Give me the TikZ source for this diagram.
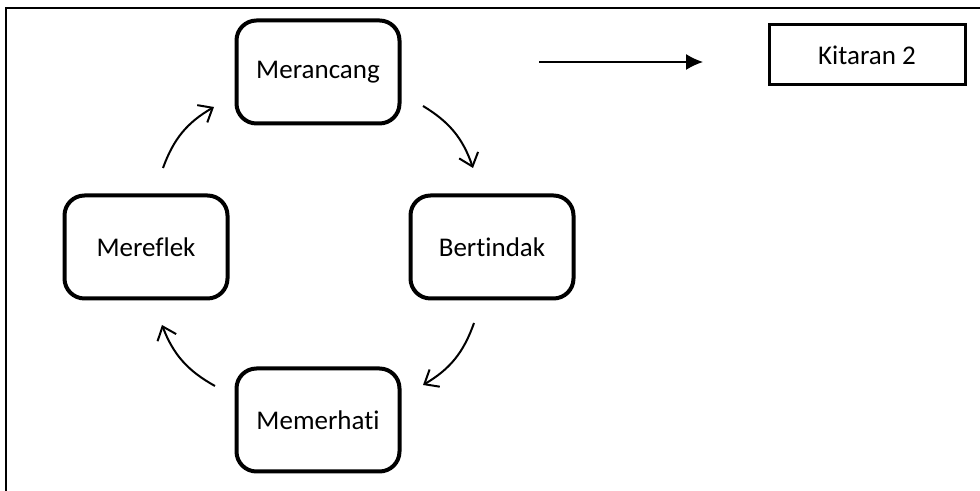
\documentclass[tikz,border=0pt]{standalone}
\usepackage{fontspec}
\setmainfont{Carlito}[Ligatures={NoCommon}]
\usetikzlibrary{arrows.meta}

\tikzset{
    stage/.style={draw, line width=2pt, rounded corners=10pt, minimum width=81.5pt, minimum height=51.5pt, font=\fontsize{13.5}{16}\selectfont},
    cyc/.style={line width=1pt, -{Straight Barb[length=6pt,width=10pt]}, bend left=20}
}

\begin{document}
\begin{tikzpicture}[x=0.5pt, y=0.5pt]
        \useasboundingbox (0,0) rectangle (980,491);
        \draw[line width=1pt] (6,0) -- (6,483) -- (980,483);
        % the four stages
        \node[stage] (rancang) at (318,419) {Merancang};
        \node[stage] (tindak) at (492,244) {Bertindak};
        \node[stage] (hati) at (318,71) {Memerhati};
        \node[stage] (reflek) at (146,244) {Mereflek};
        \node[draw, line width=1.5pt, minimum width=98pt, minimum height=30pt, font=\fontsize{13.5}{16}\selectfont] (kitaran) at (867,436) {Kitaran 2};
        % arrow ends
        \coordinate (a1) at (423,385);
        \coordinate (b1) at (473,323);
        \coordinate (a2) at (474,168);
        \coordinate (b2) at (423,106);
        \coordinate (a3) at (215,105);
        \coordinate (b3) at (162,166);
        \coordinate (a4) at (163,323);
        \coordinate (b4) at (214,384);
        \coordinate (go) at (539,429);
        \coordinate (stop) at (703,429);
        \draw[cyc] (a1) to (b1);
        \draw[cyc] (a2) to (b2);
        \draw[cyc] (a3) to (b3);
        \draw[cyc] (a4) to (b4);
        \draw[line width=0.7pt, -{Latex[length=8.5pt,width=8pt]}] (go) -- (stop);
    \end{tikzpicture}
\end{document}
